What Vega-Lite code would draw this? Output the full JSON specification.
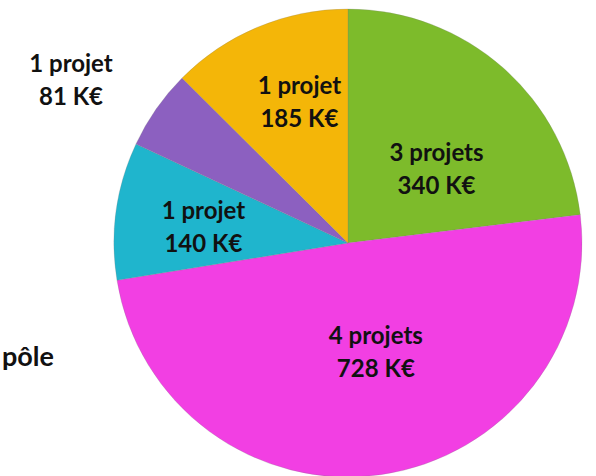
{
  "$schema": "https://vega.github.io/schema/vega-lite/v6.json",
  "autosize": "none",
  "width": 468,
  "height": 468,
  "padding": {"left": 114, "top": 9, "right": 14, "bottom": 0},
  "background": "white",
  "config": {"view": {"stroke": null}},
  "title": {
    "text": "pôle",
    "orient": "top",
    "anchor": "start",
    "frame": "group",
    "font": "Lato",
    "fontSize": 27,
    "fontWeight": "bold",
    "color": "#111111",
    "baseline": "alphabetic",
    "offset": 0,
    "dx": -112,
    "dy": 453
  },
  "data": {
    "values": [
      {"cat": "vert", "ordre": 1, "value": 340, "label": "3 projets\n340 K€"},
      {"cat": "magenta", "ordre": 2, "value": 728, "label": "4 projets\n728 K€"},
      {"cat": "cyan", "ordre": 3, "value": 140, "label": "1 projet\n140 K€"},
      {"cat": "violet", "ordre": 4, "value": 81, "label": "1 projet\n81 K€"},
      {"cat": "jaune", "ordre": 5, "value": 185, "label": "1 projet\n185 K€"}
    ]
  },
  "encoding": {
    "theta": {"field": "value", "type": "quantitative", "stack": true},
    "order": {"field": "ordre", "type": "quantitative"}
  },
  "layer": [
    {
      "mark": {"type": "arc", "outerRadius": 234, "stroke": "#7a7a7a", "strokeWidth": 0.4, "strokeOpacity": 0.6},
      "encoding": {
        "color": {
          "field": "cat",
          "type": "nominal",
          "scale": {
            "domain": ["vert", "magenta", "cyan", "violet", "jaune"],
            "range": ["#7dbb2b", "#f23fe3", "#1fb5cd", "#8c60c0", "#f4b608"]
          },
          "legend": null
        }
      }
    },
    {
      "mark": {"type": "text", "radius": 120, "dx": 9, "dy": 1, "font": "Lato", "fontSize": 24, "fontWeight": "bold", "lineBreak": "\n", "lineHeight": 33, "color": "#111111"},
      "encoding": {
        "detail": {"field": "cat", "type": "nominal"},
        "text": {"condition": {"test": "datum.cat === 'vert'", "field": "label"}, "value": ""}
      }
    },
    {
      "mark": {"type": "text", "radius": 113, "dx": 12, "dy": -18, "font": "Lato", "fontSize": 24, "fontWeight": "bold", "lineBreak": "\n", "lineHeight": 33, "color": "#111111"},
      "encoding": {
        "detail": {"field": "cat", "type": "nominal"},
        "text": {"condition": {"test": "datum.cat === 'magenta'", "field": "label"}, "value": ""}
      }
    },
    {
      "mark": {"type": "text", "radius": 146, "dx": 0, "dy": -11, "font": "Lato", "fontSize": 24, "fontWeight": "bold", "lineBreak": "\n", "lineHeight": 33, "color": "#111111"},
      "encoding": {
        "detail": {"field": "cat", "type": "nominal"},
        "text": {"condition": {"test": "datum.cat === 'cyan'", "field": "label"}, "value": ""}
      }
    },
    {
      "mark": {"type": "text", "radius": 150, "dx": 9, "dy": -18, "font": "Lato", "fontSize": 24, "fontWeight": "bold", "lineBreak": "\n", "lineHeight": 33, "color": "#111111"},
      "encoding": {
        "detail": {"field": "cat", "type": "nominal"},
        "text": {"condition": {"test": "datum.cat === 'jaune'", "field": "label"}, "value": ""}
      }
    },
    {
      "mark": {"type": "text", "radius": 322, "dx": -13, "dy": 6, "font": "Lato", "fontSize": 24, "fontWeight": "bold", "lineBreak": "\n", "lineHeight": 33, "color": "#111111"},
      "encoding": {
        "detail": {"field": "cat", "type": "nominal"},
        "text": {"condition": {"test": "datum.cat === 'violet'", "field": "label"}, "value": ""}
      }
    }
  ]
}
